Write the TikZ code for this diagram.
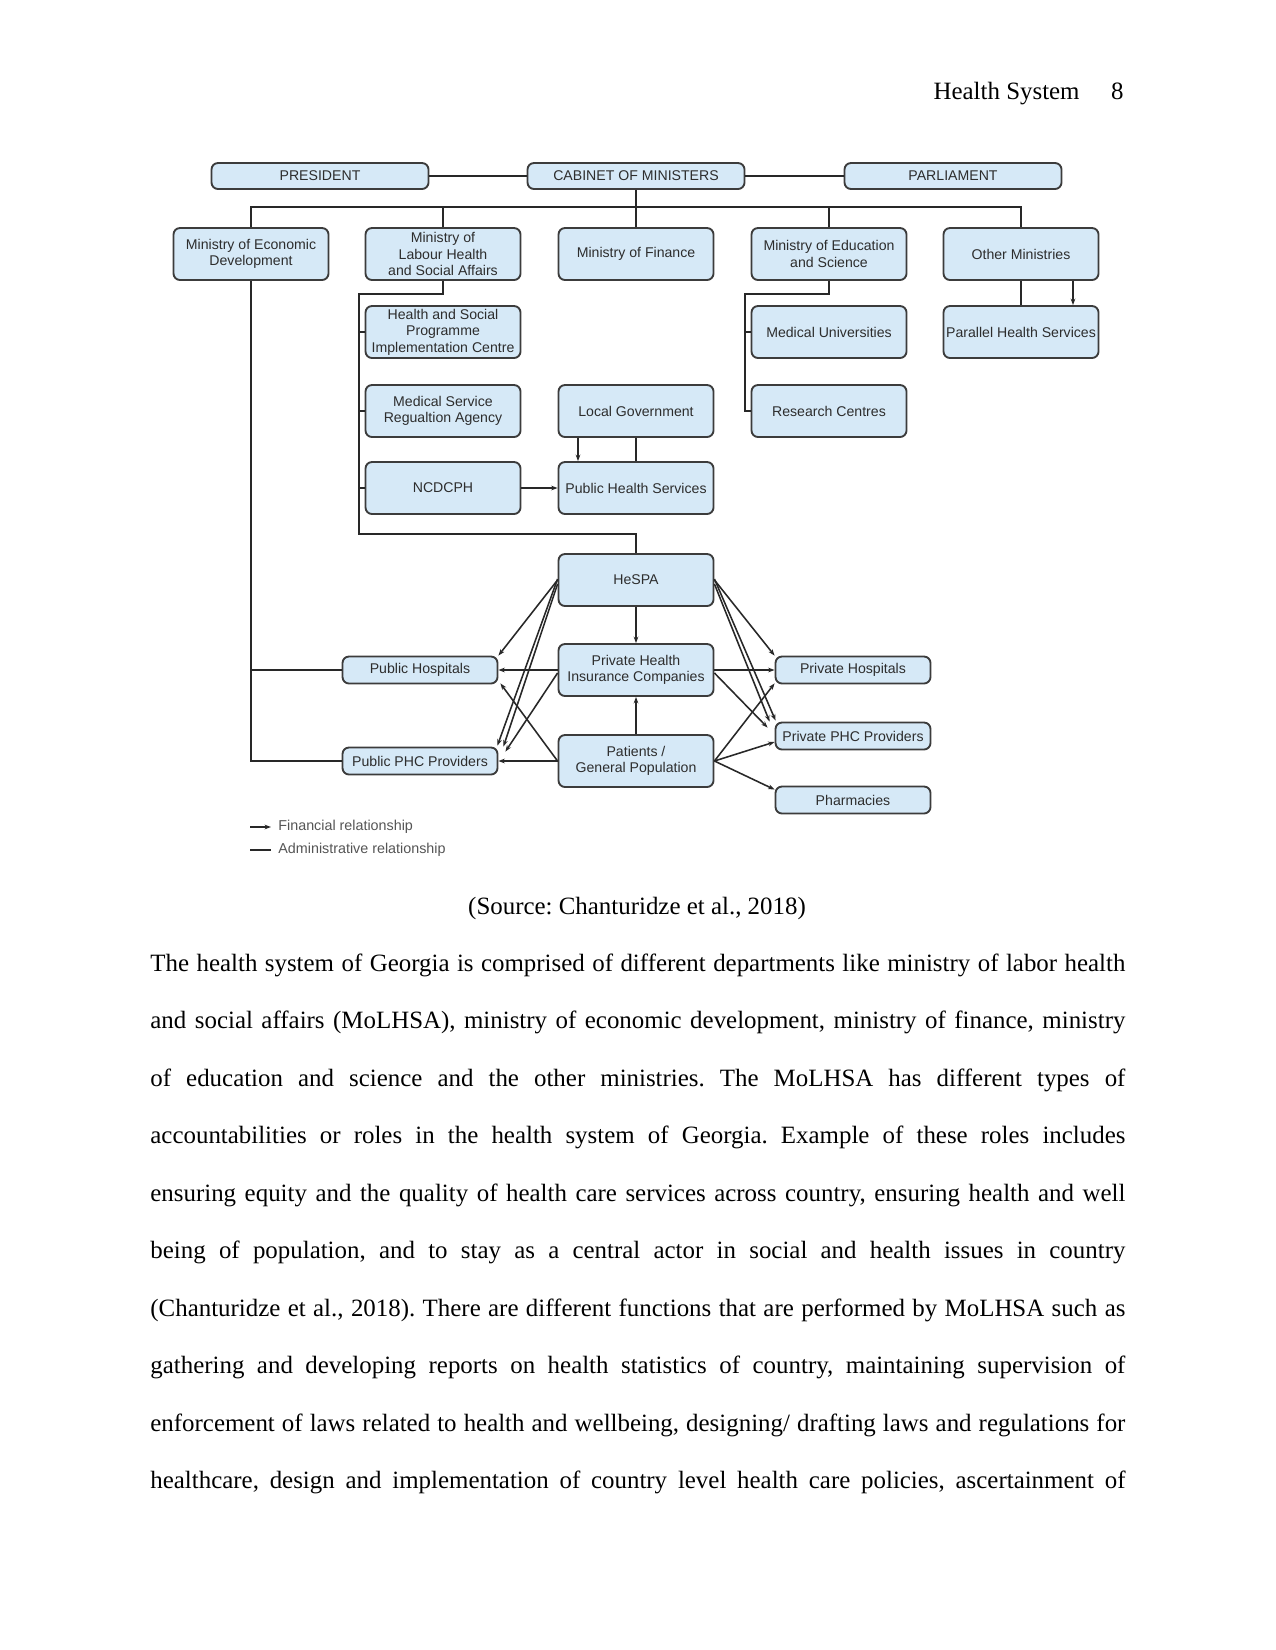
\documentclass[tikz,border=0pt]{standalone}
\usepackage{fontspec}
\setmainfont{Liberation Serif}
\newfontfamily\diafont{Liberation Sans}
\usetikzlibrary{arrows.meta,calc}
\frenchspacing
\newlength\pxu
\setlength\pxu{0.169333mm}
\definecolor{boxfill}{RGB}{214,233,247}
\definecolor{boxline}{RGB}{60,60,60}
\definecolor{txtgray}{RGB}{45,45,45}
\definecolor{linegray}{RGB}{40,40,40}
\definecolor{leggray}{RGB}{85,85,85}
\begin{document}
\begin{tikzpicture}[x=1\pxu, y=-1\pxu,
  box/.style={draw=boxline, fill=boxfill, line width=0.9pt, rounded corners=1.1mm,
    minimum width=155\pxu, minimum height=52\pxu, inner sep=0pt, align=center,
    text=txtgray, font=\diafont\fontsize{6.8}{8}\selectfont},
  topbox/.style={box, minimum width=217\pxu, minimum height=26\pxu},
  smallbox/.style={box, minimum height=27\pxu},
  conn/.style={draw=linegray, line width=0.75pt},
  arr/.style={conn, -{Stealth[length=1.1mm,width=0.8mm]}},
  legtext/.style={inner sep=0pt, anchor=west, text=leggray, font=\diafont\fontsize{6.9}{8}\selectfont},
  bodytext/.style={inner sep=0pt, font=\fontsize{12}{14}\selectfont}]
\useasboundingbox[fill=white] (0,0) rectangle (1275,1650);

% header
\node[bodytext, anchor=base east] (hdr) at (1080,99) {Health System};
\node[bodytext, anchor=base east] (pg) at (1124,99) {8};

% top row
\node[topbox] (pres) at (320,176) {PRESIDENT};
\node[topbox] (cab) at (636,176) {CABINET OF MINISTERS};
\node[topbox] (parl) at (953,176) {PARLIAMENT};

% ministries
\node[box] (med) at (251,254) {Ministry of Economic\\Development};
\node[box] (mol) at (443,254) {Ministry of\\Labour Health\\and Social Affairs};
\node[box] (mof) at (636,254) {Ministry of Finance};
\node[box] (moe) at (829,254) {Ministry of Education\\and Science};
\node[box] (oth) at (1021,254) {Other Ministries};

\node[box] (hspic) at (443,332) {Health and Social\\Programme\\Implementation Centre};
\node[box] (medu) at (829,332) {Medical Universities};
\node[box] (phs) at (1021,332) {Parallel Health Services};

\node[box] (msra) at (443,411) {Medical Service\\Regualtion Agency};
\node[box] (lg) at (636,411) {Local Government};
\node[box] (rc) at (829,411) {Research Centres};

\node[box] (ncd) at (443,488) {NCDCPH};
\node[box] (pubhs) at (636,488) {Public Health Services};

\node[box] (hespa) at (636,580) {HeSPA};
\node[box] (phic) at (636,670) {Private Health\\Insurance Companies};
\node[box] (pat) at (636,761) {Patients /\\General Population};

\node[smallbox] (pubhosp) at (420,670) {Public Hospitals};
\node[smallbox] (pubphc) at (420,761) {Public PHC Providers};
\node[smallbox] (privhosp) at (853,670) {Private Hospitals};
\node[smallbox] (privphc) at (853,736) {Private PHC Providers};
\node[smallbox] (pharm) at (853,800) {Pharmacies};

% top connectors
\coordinate (bus) at (0,207);
\draw[conn] (pres.east) -- (cab.west);
\draw[conn] (cab.east) -- (parl.west);
\draw[conn] (cab.south) -- (mof.north);
\draw[conn] (med.north) -- (med.north |- bus) -- (oth.north |- bus) -- (oth.north);
\draw[conn] (mol.north) -- (mol.north |- bus);
\draw[conn] (moe.north) -- (moe.north |- bus);

% MoLHSA tree
\coordinate (molK) at (359,294);
\coordinate (molB) at (359,534);
\draw[conn] (mol.south) |- (molK) -- (molB) -| (hespa.north);
\draw[conn] (hspic.west) -- (hspic.west -| molK);
\draw[conn] (msra.west) -- (msra.west -| molK);
\draw[conn] (ncd.west) -- (ncd.west -| molK);

% Education tree
\coordinate (moeK) at (745,294);
\draw[conn] (moe.south) |- (moeK) |- (rc.west);
\draw[conn] (medu.west) -- (medu.west -| moeK);

% other ministries
\draw[conn] (oth.south) -- (phs.north);
\draw[arr] ($(oth.south)+(52,0)$) -- ($(phs.north)+(52,0)$);

% local government / public health
\draw[arr] ($(lg.south)+(-58,0)$) -- ($(pubhs.north)+(-58,0)$);
\draw[conn] (lg.south) -- (pubhs.north);
\draw[arr] (ncd.east) -- (pubhs.west);

% economic development line
\coordinate (medB) at (251,761);
\draw[conn] (med.south) -- (medB) -- (pubphc.west);
\draw[conn] (pubhosp.west) -- (pubhosp.west -| medB);

% central verticals
\draw[arr] (hespa.south) -- (phic.north);
\draw[arr] (pat.north) -- (phic.south);

% left financial flows
\draw[arr] (hespa.west) -- (pubhosp.north east);
\draw[arr] ($(hespa.west)+(0,-1)$) -- ($(pubphc.north east)+(-1,-1)$);
\draw[arr] ($(hespa.west)+(0,4)$) -- ($(pubphc.north east)+(5,0)$);
\draw[arr] (phic.west) -- (pubhosp.east);
\draw[arr] ($(phic.west)+(0,3)$) -- ($(pubphc.north east)+(7,5)$);
\draw[arr] (pat.west) -- (pubphc.east);
\draw[arr] (pat.west) -- ($(pubhosp.south east)+(2,-1)$);

% right financial flows
\draw[arr] (hespa.east) -- (privhosp.north west);
\draw[arr] ($(hespa.east)+(0,-1)$) -- ($(privphc.north west)+(1,-1)$);
\draw[arr] ($(hespa.east)+(0,4)$) -- ($(privphc.north west)+(-5,0)$);
\draw[arr] (phic.east) -- (privhosp.west);
\draw[arr] ($(phic.east)+(0,3)$) -- ($(privphc.north west)+(-7,6)$);
\draw[arr] (pat.east) -- ($(privhosp.south west)+(0,-1)$);
\draw[arr] (pat.east) -- ($(privphc.west)+(0,6)$);
\draw[arr] (pat.east) -- ($(pharm.north west)+(0,4)$);

% legend
\coordinate (lgA1) at (250,827);
\coordinate (lgA2) at (271,827);
\coordinate (lgB1) at (250,850);
\coordinate (lgB2) at (271,850);
\draw[arr] (lgA1) -- (lgA2);
\draw[conn] (lgB1) -- (lgB2);
\node[legtext] (legF) at (278,827) {Financial relationship};
\node[legtext] (legA) at (278,850) {Administrative relationship};

% caption and body text
\node[bodytext, anchor=base] (cap) at (637,914) {(Source: Chanturidze et al., 2018)};
\node[bodytext, anchor=base west] (l1) at (150,971) {\makebox[975\pxu][s]{The health system of Georgia is comprised of different departments like ministry of labor health}};
\node[bodytext, anchor=base west] (l2) at (150,1028.5) {\makebox[975\pxu][s]{and social affairs (MoLHSA), ministry of economic development, ministry of finance, ministry}};
\node[bodytext, anchor=base west] (l3) at (150,1086) {\makebox[975\pxu][s]{of education and science and the other ministries. The MoLHSA has different types of}};
\node[bodytext, anchor=base west] (l4) at (150,1143.5) {\makebox[975\pxu][s]{accountabilities or roles in the health system of Georgia. Example of these roles includes}};
\node[bodytext, anchor=base west] (l5) at (150,1201) {\makebox[975\pxu][s]{ensuring equity and the quality of health care services across country, ensuring health and well}};
\node[bodytext, anchor=base west] (l6) at (150,1258.5) {\makebox[975\pxu][s]{being of population, and to stay as a central actor in social and health issues in country}};
\node[bodytext, anchor=base west] (l7) at (150,1316) {\makebox[975\pxu][s]{(Chanturidze et al., 2018). There are different functions that are performed by MoLHSA such as}};
\node[bodytext, anchor=base west] (l8) at (150,1373.5) {\makebox[975\pxu][s]{gathering and developing reports on health statistics of country, maintaining supervision of}};
\node[bodytext, anchor=base west] (l9) at (150,1431) {\makebox[975\pxu][s]{enforcement of laws related to health and wellbeing, designing/ drafting laws and regulations for}};
\node[bodytext, anchor=base west] (l10) at (150,1488.5) {\makebox[975\pxu][s]{healthcare, design and implementation of country level health care policies, ascertainment of}};
\end{tikzpicture}
\end{document}
